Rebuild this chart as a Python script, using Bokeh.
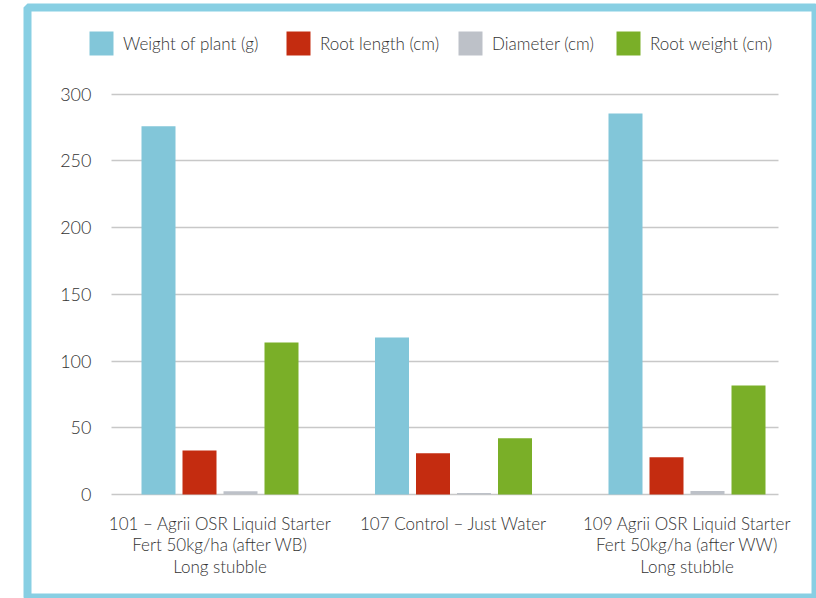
from bokeh.plotting import figure
from bokeh.models import Legend, LegendItem, FixedTicker, Range1d
from bokeh.embed import file_html
from bokeh.resources import INLINE
import numpy as np

categories = [
    "101 – Agrii OSR Liquid Starter\nFert 50kg/ha (after WB)\nLong stubble",
    "107 Control – Just Water",
    "109 Agrii OSR Liquid Starter\nFert 50kg/ha (after WW)\nLong stubble",
]
series_names = ["Weight of plant (g)", "Root length (cm)", "Diameter (cm)", "Root weight (cm)"]
weight_of_plant = [276, 117.7, 285.5]
root_length = [33, 31, 28]
diameter = [2.5, 1.2, 2.7]
root_weight = [114, 42.2, 81.7]
y_ticks = [0, 50, 100, 150, 200, 250, 300]

colors = ["#82C6D9", "#C42C10", "#BDC1C8", "#7AAF28"]
text_color = "#333333"
border_color = "#88CFE3"
grid_color = "#c8c8c8"
font = "Lato Light"

series = [weight_of_plant, root_length, diameter, root_weight]

# layout geometry (pixels)
W, H = 816, 598
frame_l, frame_r, frame_t, frame_b = 27, 816, 7, 597
grp_px = [219.5, 453.5, 686.5]
px_per_unit = (grp_px[2] - grp_px[0]) / 2
y0_px, y300_px = 494.0, 93.7
py = (y0_px - y300_px) / 300.0
grid_l, grid_r = 111, 778
legend_left_px = [89, 286, 458, 616]

x_start = -(grp_px[0] - frame_l) / px_per_unit
x_end = 2 + (frame_r - grp_px[2]) / px_per_unit
y_start = -(frame_b - y0_px) / py
y_end = (y0_px - frame_t) / py

bar_w = 34 / px_per_unit
offsets = [(-61.5 + 41 * i) / px_per_unit for i in range(4)]

p = figure(
    width=W, height=H,
    x_range=Range1d(x_start, x_end), y_range=Range1d(y_start, y_end),
    output_backend="svg", toolbar_location=None,
    min_border_left=frame_l, min_border_right=W - frame_r,
    min_border_top=frame_t, min_border_bottom=H - frame_b,
)
p.background_fill_color = "white"
p.border_fill_color = "white"
p.outline_line_color = border_color
p.outline_line_width = 8
p.xgrid.visible = False
p.ygrid.visible = False

xs = np.arange(len(categories))
renderers = []
for name, vals, col, off in zip(series_names, series, colors, offsets):
    r = p.vbar(x=xs + off, top=vals, width=bar_w, bottom=0, fill_color=col, line_color=None)
    renderers.append(r)

# y axis: fixed at the left end of the gridlines; its inward ticks act as gridlines
yax = p.yaxis[0]
yax.fixed_location = (grid_l - grp_px[0]) / px_per_unit
yax.ticker = FixedTicker(ticks=y_ticks)
yax.axis_line_color = None
yax.minor_tick_line_color = None
yax.major_tick_in = grid_r - grid_l
yax.major_tick_out = 0
yax.major_tick_line_color = grid_color
yax.major_tick_line_width = 1.5
yax.major_label_text_font = font
yax.major_label_text_font_size = "18px"
yax.major_label_text_color = text_color
yax.major_label_standoff = 20
yax.level = "underlay"

xax = p.xaxis[0]
xax.fixed_location = 0
xax.ticker = FixedTicker(ticks=list(range(len(categories))))
xax.major_label_overrides = {i: c for i, c in enumerate(categories)}
xax.axis_line_color = None
xax.major_tick_line_color = None
xax.minor_tick_line_color = None
xax.major_label_text_font = font
xax.major_label_text_font_size = "17px"
xax.major_label_text_color = text_color
xax.major_label_text_line_height = 1.04
xax.major_label_standoff = 12

for name, r, lx in zip(series_names, renderers, legend_left_px):
    legend = Legend(
        items=[LegendItem(label=name, renderers=[r])], orientation="horizontal",
        location=(lx - 3 - frame_l, frame_b - 58),
        glyph_width=30, glyph_height=30, label_standoff=7, spacing=0,
        padding=0, margin=0, border_line_alpha=0, background_fill_alpha=0,
        label_text_font=font, label_text_font_size="17px", label_text_color=text_color,
    )
    p.add_layout(legend)

open("out.html", "w").write(file_html(p, INLINE))
